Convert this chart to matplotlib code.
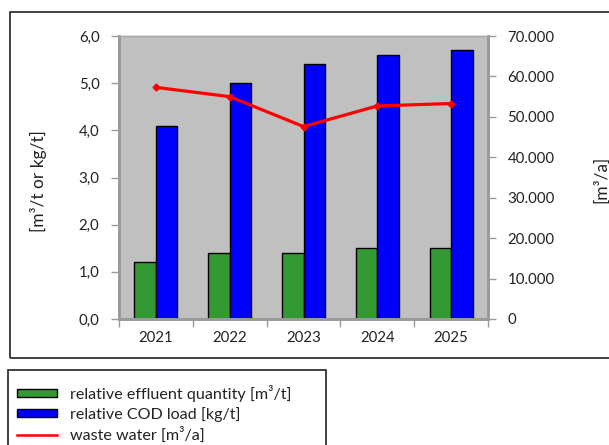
import matplotlib.pyplot as plt
import numpy as np
from matplotlib.patches import Rectangle
from matplotlib.lines import Line2D
from matplotlib.ticker import FuncFormatter, FixedLocator

plt.rcParams['font.family'] = ['Lato', 'DejaVu Sans']

years = ['2021', '2022', '2023', '2024', '2025']
effluent = [1.2, 1.4, 1.4, 1.5, 1.5]          # m³/t
cod_load = [4.1, 5.0, 5.4, 5.6, 5.7]          # kg/t
waste_water = [57300, 55000, 47600, 52700, 53300]  # m³/a

W, H = 609, 445
fig = plt.figure(figsize=(W / 100, H / 100), dpi=100)

# frames around chart and legend
fig.patches.append(Rectangle((10 / W, 1 - 358 / H), 610 / W, 346 / H,
                             transform=fig.transFigure, fill=False,
                             edgecolor='#333333', linewidth=1.3))
fig.patches.append(Rectangle((8 / W, -0.05), 318 / W, 0.05 + (445 - 370) / H,
                             transform=fig.transFigure, fill=False,
                             edgecolor='#333333', linewidth=1.3))

ax = fig.add_axes([119 / W, 1 - 319 / H, 369 / W, 283 / H])
ax.set_facecolor('#c0c0c0')
x = np.arange(len(years))
bw = 0.29
ax.bar(x - bw / 2, effluent, bw, color='#339933', edgecolor='black', linewidth=1, zorder=2)
ax.bar(x + bw / 2, cod_load, bw, color='#0000ff', edgecolor='black', linewidth=1, zorder=2)
ax.set_xlim(-0.5, 4.5)
ax.set_ylim(0, 6)
ax.set_yticks(np.arange(0, 7, 1))
ax.yaxis.set_major_formatter(FuncFormatter(lambda v, p: f'{v:.1f}'.replace('.', ',')))
ax.set_xticks(x)
ax.set_xticklabels(years)
ax.xaxis.set_minor_locator(FixedLocator(np.arange(-0.5, 5, 1)))
ax.tick_params(axis='x', which='major', length=0, pad=9)
ax.tick_params(axis='x', which='minor', length=6, color='#999999', width=1)
ax.tick_params(axis='y', length=6, color='#999999', width=1, pad=8)
ax.tick_params(labelsize=10.8, labelcolor='#222222')
ax.set_ylabel('[m³/t or kg/t]', fontsize=12.5, color='#222222')
ax.yaxis.label.set_va('center')
ax.yaxis.set_label_coords(-0.2195, 0.488)

ax2 = ax.twinx()
ax2.plot(x, waste_water, color='#ff0000', linewidth=2.3, marker='D', markersize=3.5, zorder=3)
ax2.set_ylim(0, 70000)
ax2.set_yticks(np.arange(0, 70001, 10000))
ax2.yaxis.set_major_formatter(FuncFormatter(lambda v, p: f'{v:,.0f}'.replace(',', '.')))
ax2.tick_params(axis='y', length=6, color='#999999', width=1, pad=8,
                labelsize=10.8, labelcolor='#222222')
ax2.set_ylabel('[m³/a]', fontsize=12.5, color='#222222', rotation=90)
ax2.yaxis.label.set_va('center')
ax2.yaxis.set_label_coords(1.306, 0.495)

for a in (ax, ax2):
    for side in ('left', 'bottom', 'right'):
        a.spines[side].set_color('#9a9a9a')
        a.spines[side].set_linewidth(2)
    a.spines['top'].set_color('#a8a8a8')
    a.spines['top'].set_linewidth(1)

handles = [
    Rectangle((0, 0), 1, 1, facecolor='#339933', edgecolor='black', linewidth=1),
    Rectangle((0, 0), 1, 1, facecolor='#0000ff', edgecolor='black', linewidth=1),
    Line2D([], [], color='#ff0000', linewidth=1.8),
]
labels = ['relative effluent quantity [m³/t]', 'relative COD load [kg/t]', 'waste water [m³/a]']
fig.legend(handles, labels, loc='upper left', bbox_to_anchor=(17 / W, 1 - 385 / H),
           frameon=False, fontsize=11.6, handlelength=2.5, handleheight=0.4,
           labelspacing=0.32, handletextpad=0.8, borderpad=0, borderaxespad=0,
           labelcolor='#222222')

fig.savefig('out.png', dpi=100)
